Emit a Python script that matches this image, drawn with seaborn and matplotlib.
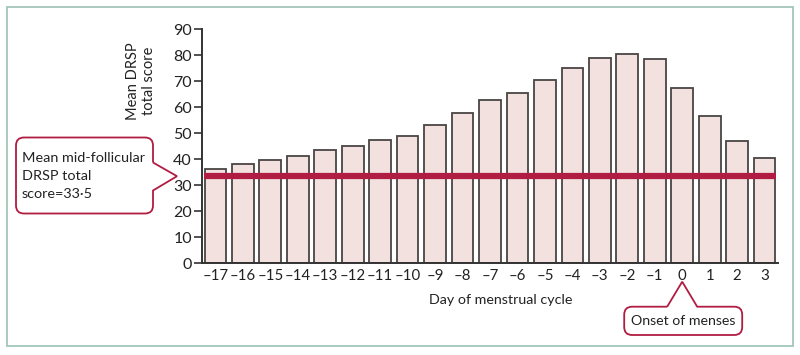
#!/usr/bin/env python3

import matplotlib
matplotlib.use('Agg')
import matplotlib.pyplot as plt
import matplotlib.transforms as mtransforms
import numpy as np
import pandas as pd
import seaborn as sns
from matplotlib.patches import PathPatch, Rectangle
from matplotlib.path import Path

# data
days = [-17, -16, -15, -14, -13, -12, -11, -10, -9, -8, -7,
        -6, -5, -4, -3, -2, -1, 0, 1, 2, 3]
scores = [36.2, 38.2, 39.8, 41.3, 43.6, 45.0, 47.5, 49.0, 53.1, 57.9, 62.7,
          65.4, 70.4, 75.0, 79.1, 80.5, 78.5, 67.5, 56.7, 47.0, 40.6]
follicular_mean = 33.5
day_labels = [f"\u2013{-d}" if d < 0 else str(d) for d in days]

CRIMSON = '#b01c42'
BAR_FILL = '#f3e1df'
BAR_EDGE = '#4a4444'
AXIS = '#333333'
TEXT = '#222222'

sns.set_style('white')
plt.rcParams['font.family'] = ['Lato', 'DejaVu Sans']
plt.rcParams['font.size'] = 10.3


def bubble(ax, fig, tip, left, right, bottom, top, base, side, r=8):
    """Speech bubble path in pixel offsets from a tip given in data coords."""
    b0, b1 = base
    V, C = [], []

    def mv(p):
        V.append(p); C.append(Path.MOVETO)

    def ln(p):
        V.append(p); C.append(Path.LINETO)

    def cv(c, p):
        V.extend([c, p]); C.extend([Path.CURVE3, Path.CURVE3])

    if side == 'right':
        # pointer on right edge, going clockwise from upper base
        mv((right, b1)); ln((0, 0)); ln((right, b0))
        ln((right, bottom + r)); cv((right, bottom), (right - r, bottom))
        ln((left + r, bottom)); cv((left, bottom), (left, bottom + r))
        ln((left, top - r)); cv((left, top), (left + r, top))
        ln((right - r, top)); cv((right, top), (right, top - r))
        ln((right, b1))
    else:
        # pointer on top edge
        mv((b0, top)); ln((0, 0)); ln((b1, top))
        ln((right - r, top)); cv((right, top), (right, top - r))
        ln((right, bottom + r)); cv((right, bottom), (right - r, bottom))
        ln((left + r, bottom)); cv((left, bottom), (left, bottom + r))
        ln((left, top - r)); cv((left, top), (left + r, top))
        ln((b0, top))
    V = np.array(V) / 100.0
    trans = fig.dpi_scale_trans + mtransforms.ScaledTranslation(
        tip[0], tip[1], ax.transData)
    ax.add_patch(PathPatch(Path(V, C), transform=trans, facecolor='white',
                           edgecolor=CRIMSON, lw=1.3, clip_on=False, zorder=5))
    return trans


if __name__ == '__main__':
    fig = plt.figure(figsize=(8, 3.55), dpi=100)
    ax = fig.add_axes([201.7 / 800, 1 - 263.3 / 355,
                       576.6 / 800, 234.0 / 355])

    df = pd.DataFrame({'Day': day_labels, 'Score': scores})
    sns.barplot(data=df, x='Day', y='Score', order=day_labels, ax=ax,
                color=BAR_FILL, edgecolor=BAR_EDGE, linewidth=1.3,
                width=0.79, saturation=1)
    ax.hlines(follicular_mean, -0.42, len(days) - 0.58, color=CRIMSON,
              lw=4.5, zorder=4)

    ax.set_xlim(-0.5, len(days) - 0.5)
    ax.set_ylim(0, 90)
    ax.set_yticks(range(0, 91, 10))
    ax.set_xticks(np.arange(len(days)))
    ax.set_xticklabels(day_labels)
    ax.set_xticks(np.arange(len(days) + 1) - 0.5, minor=True)
    ax.tick_params(axis='x', which='major', length=0, pad=4,
                   labelsize=10.8, colors=AXIS)
    ax.tick_params(axis='x', which='minor', length=5, width=1.2,
                   direction='inout', color=AXIS)
    ax.tick_params(axis='y', length=6, width=1.2, pad=1, labelsize=11.5,
                   colors=AXIS, left=True)
    for lab in ax.get_xticklabels() + ax.get_yticklabels():
        lab.set_color(TEXT)
    ax.set_xlabel('')
    ax.set_ylabel('')
    sns.despine(ax=ax)
    for s in ('left', 'bottom'):
        ax.spines[s].set_color(AXIS)
        ax.spines[s].set_linewidth(1.4)

    fig.text(141 / 800, 1 - 81 / 355, 'Mean DRSP\ntotal score', rotation=90,
             ha='center', va='center', multialignment='center',
             fontsize=10.5, color=TEXT)
    fig.text(501 / 800, 1 - 300 / 355, 'Day of menstrual cycle',
             ha='center', va='center', fontsize=10.3, color=TEXT)

    # left callout pointing at the mid-follicular line
    t1 = bubble(ax, fig, (-0.5 - 24.7 / 27.46, follicular_mean),
                left=-161, right=-24, bottom=-37.3, top=38.7,
                base=(-14.3, 13.7), side='right')
    ax.text(-155 / 100, 0.7 / 100,
            'Mean mid-follicular\nDRSP total\nscore=33\u00b75',
            transform=t1, ha='left', va='center', linespacing=1.6,
            fontsize=10.4, color=TEXT, zorder=6)

    # bottom callout pointing at day 0
    zero = day_labels.index('0')
    t2 = bubble(ax, fig, (zero, -18.4 / 2.6),
                left=-58, right=60, bottom=-53.3, top=-25,
                base=(-15, 15), side='top')
    ax.text(1 / 100, -39.2 / 100, 'Onset of menses', transform=t2,
            ha='center', va='center', fontsize=10.2, color=TEXT, zorder=6)

    # outer frame
    fig.patches.append(Rectangle((7 / 800, 1 - 345.7 / 355),
                                 785.7 / 800, 338.7 / 355,
                                 transform=fig.transFigure, fill=False,
                                 edgecolor='#9cc2b4', lw=1.2))

    fig.savefig('out.png', dpi=100)
